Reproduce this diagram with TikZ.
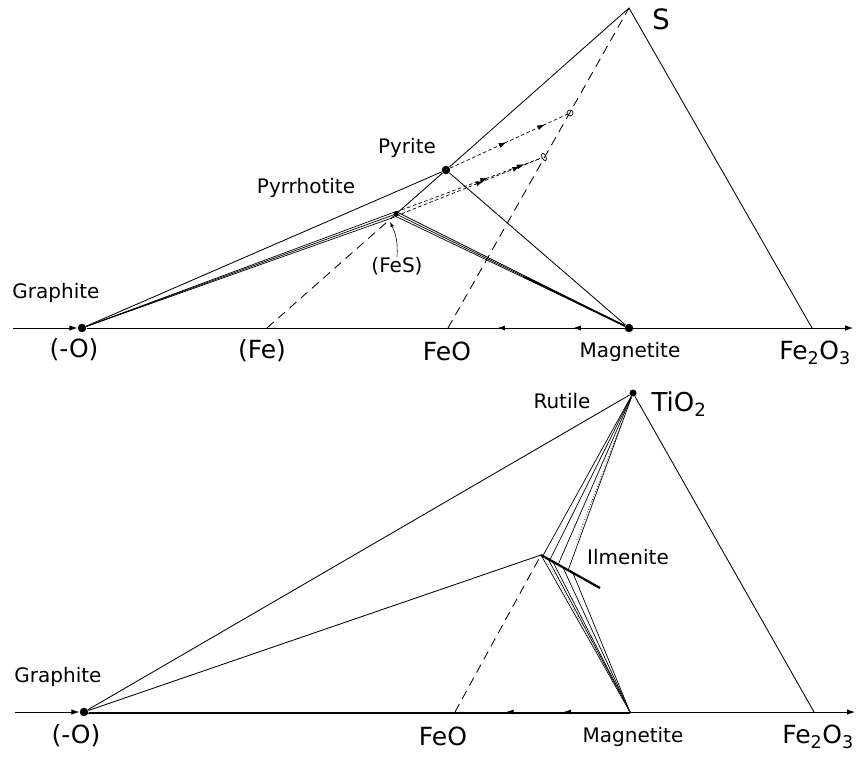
\documentclass[tikz,border=0pt]{standalone}
\usepackage{fontspec}
\setmainfont{DejaVu Sans}
\usetikzlibrary{arrows.meta,calc,decorations.markings,shapes.geometric}

\begin{document}
\begin{tikzpicture}[x=1pt,y=-1pt,>={Latex[length=8pt,width=5.5pt]},line width=0.85pt,
  dot/.style={circle,fill,inner sep=0pt,minimum size=8.5pt},
  lbl/.style={inner sep=0pt,font=\fontsize{20}{22}\selectfont},
  axlbl/.style={inner sep=0pt,font=\fontsize{25}{27}\selectfont},
  ddash/.style={dash pattern=on 9pt off 6pt},
  sdash/.style={dash pattern=on 3.5pt off 2.5pt,line width=0.7pt},
  tie/.style={line width=0.7pt},
  tips/.style 2 args={postaction={decorate},decoration={markings,
    mark=at position #1 with {\arrow{Latex[length=7.5pt,width=5pt]}},
    mark=at position #2 with {\arrow{Latex[length=7.5pt,width=5pt]}}}}]
\useasboundingbox (0,0) rectangle (859,757);
% upper diagram: Fe-S-O
\coordinate (inA) at (13,328);
\coordinate (outA) at (853,328);
\coordinate (S) at (629,8);
\coordinate (feA) at (812,328);
\coordinate (feB) at (267,328);
\coordinate (feoA) at (448,328);
\node[dot] (graA) at (82,328) {};
\node[dot] (magA) at (629,328) {};
\node[dot] (pyr) at (446,170) {};
\node[dot,minimum size=5pt] (po) at (396,214) {};
\node[draw,circle,inner sep=0pt,minimum size=6pt,line width=0.7pt] (circ) at (570,113) {};
\node[draw,ellipse,inner sep=0pt,minimum width=4pt,minimum height=8pt,rotate=25,line width=0.7pt] (ell) at (544,157) {};
\draw[->] (inA) -- (graA);
\draw[->] (graA) -- (outA);
\path[tips={.095}{.236}] (magA) -- (graA);
\draw (graA) -- (pyr) -- (S) -- (feA);
\draw (pyr) -- (magA);
\draw (po) -- (pyr);
\foreach \d in {-2.5,0,2.5} {
  \draw[tie] (graA) -- ([yshift=\d pt]po.center);
  \draw[tie] ([yshift=\d pt]po.center) -- (magA);
}
\draw[line width=1.8pt,shorten <=140pt] (po) -- (magA);
\draw[ddash] (feB) -- (po);
\draw[ddash] (feoA) -- (S);
\draw[sdash,tips={.48}{.81}] (pyr) -- (circ);
\draw[sdash,tips={.63}{.88}] ([yshift=2pt]po.center) -- (ell);
\draw[sdash,tips={.6}{.85}] ([yshift=-2pt]po.center) -- (ell);
\node[lbl] (fes) at (397,266) {(FeS)};
\draw[->,line width=0.6pt,>={Latex[length=5pt,width=3.5pt]}] (fes.north) to[bend right=15] ([shift={(-6pt,-8pt)}]po.center);
\node[lbl] (graphA) at (56,293) {Graphite};
\node[lbl] (pyrrh) at (306,188) {Pyrrhotite};
\node[lbl] (pyrt) at (407,148) {Pyrite};
\node[font=\fontsize{28}{30}\selectfont,inner sep=0pt] (stxt) at (661,19) {S};
\node[axlbl] (oA) at (74,350) {(-O)};
\node[axlbl] (fetxt) at (262,351) {(Fe)};
\node[axlbl] (feoAt) at (447,351) {FeO};
\node[lbl] (magAt) at (630,352) {Magnetite};
\node[axlbl] (hemA) at (815,353) {Fe\textsubscript{2}O\textsubscript{3}};
% lower diagram: Fe-Ti-O
\coordinate (inB) at (15,712);
\coordinate (outB) at (855,712);
\coordinate (magB) at (630,712);
\coordinate (feC) at (814,712);
\coordinate (feoB) at (455,712);
\coordinate (ilm) at (541,555);
\coordinate (ilmE) at (600,588);
\coordinate (tidot) at (577,540);
\node[dot] (graB) at (84,712) {};
\node[dot,minimum size=7pt] (ti) at (633,393) {};
\draw[->] (inB) -- (graB);
\draw[->] (graB) -- (outB);
\draw[line width=0.6pt] ([yshift=-1.5pt]graB.center) -- ([yshift=-1.5pt]magB);
\path[tips={.123}{.229}] (magB) -- (graB);
\draw (graB) -- (ti) -- (feC);
\draw (graB) -- (ilm);
\draw[ddash] (feoB) -- (ilm);
\draw[line width=2.2pt] (ilm) -- (ilmE);
\foreach \t in {.03,.15,.29,.46}
  \draw[tie] ($(ilm)!\t!(ilmE)$) -- (ti);
\draw[tie,dotted] (tidot) -- (ti);
\foreach \t in {0,.12,.2,.37,.54}
  \draw[tie] ($(ilm)!\t!(ilmE)$) -- (magB);
\draw[tie,dotted,gray] ($(ilm)!.06!(ilmE)$) -- (magB);
\node[lbl] (graphB) at (58,677) {Graphite};
\node[lbl] (rut) at (562,401) {Rutile};
\node[font=\fontsize{26}{28}\selectfont,inner sep=0pt] (titxt) at (679,404) {TiO\textsubscript{2}};
\node[lbl] (ilmt) at (628,557) {Ilmenite};
\node[axlbl] (oB) at (76,736) {(-O)};
\node[axlbl] (feoBt) at (443,736) {FeO};
\node[lbl] (magBt) at (633,737) {Magnetite};
\node[axlbl] (hemB) at (818,737) {Fe\textsubscript{2}O\textsubscript{3}};
\end{tikzpicture}
\end{document}
